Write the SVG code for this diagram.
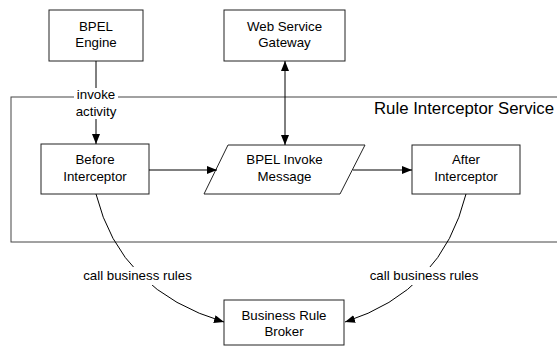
<svg xmlns="http://www.w3.org/2000/svg" width="557" height="347" viewBox="0 0 557 347">
<style>
.box{fill:#fff;stroke:#222;stroke-width:1}
.cont{fill:none;stroke:#444;stroke-width:1}
.t{font-family:"Liberation Sans",Arial,sans-serif;font-size:13.3px;fill:#000;text-anchor:middle}
.big{font-family:"Liberation Sans",Arial,sans-serif;font-size:16.8px;fill:#000}
.ln{fill:none;stroke:#000;stroke-width:1}
.bg{fill:#fff;stroke:none}
</style>
<defs>
<marker id="ah" markerWidth="10" markerHeight="8" refX="10" refY="4" orient="auto" markerUnits="userSpaceOnUse">
<path d="M0,0 L10,4 L0,8 Z" fill="#000"/>
</marker>
<marker id="ahs" markerWidth="10" markerHeight="8" refX="0" refY="4" orient="auto" markerUnits="userSpaceOnUse">
<path d="M10,0 L0,4 L10,8 Z" fill="#000"/>
</marker>
</defs>
<g id="rule-interceptor-service">
<rect class="cont" x="11" y="97" width="560" height="145"/>
<text class="big" x="374" y="114">Rule Interceptor Service</text>
</g>
<g id="bpel-engine">
<rect class="box" x="49" y="10" width="94" height="51"/>
<text class="t" x="96" y="31">BPEL</text>
<text class="t" x="96" y="47">Engine</text>
</g>
<g id="web-service-gateway">
<rect class="box" x="224" y="10" width="121" height="51"/>
<text class="t" x="284.5" y="31">Web Service</text>
<text class="t" x="284.5" y="47">Gateway</text>
</g>
<g id="before-interceptor">
<rect class="box" x="41" y="144" width="108" height="50"/>
<text class="t" x="95" y="164">Before</text>
<text class="t" x="95" y="181">Interceptor</text>
</g>
<g id="bpel-invoke-message">
<polygon class="box" points="228,145 365,145 340,194 204,194"/>
<text class="t" x="284.5" y="164">BPEL Invoke</text>
<text class="t" x="284.5" y="181">Message</text>
</g>
<g id="after-interceptor">
<rect class="box" x="412" y="145" width="108" height="49"/>
<text class="t" x="466" y="164">After</text>
<text class="t" x="466" y="181">Interceptor</text>
</g>
<g id="business-rule-broker">
<rect class="box" x="224" y="300" width="120" height="45"/>
<text class="t" x="284" y="320">Business Rule</text>
<text class="t" x="284" y="336">Broker</text>
</g>
<g id="connectors">
<line class="ln" x1="96" y1="61" x2="96" y2="144" marker-end="url(#ah)"/>
<rect class="bg" x="74" y="88" width="44" height="31"/>
<text class="t" x="96" y="99">invoke</text>
<text class="t" x="96" y="116">activity</text>
<line class="ln" x1="149" y1="170" x2="217" y2="170" marker-end="url(#ah)"/>
<line class="ln" x1="353" y1="170" x2="412" y2="170" marker-end="url(#ah)"/>
<line class="ln" x1="285" y1="61" x2="285" y2="145" marker-start="url(#ahs)" marker-end="url(#ah)"/>
<path class="ln" d="M96,194 Q120,291 224,322" marker-end="url(#ah)"/>
<path class="ln" d="M466,194 Q442,291 345,322" marker-end="url(#ah)"/>
<rect class="bg" x="82" y="267" width="112" height="18"/>
<text class="t" x="137.5" y="280">call business rules</text>
<rect class="bg" x="368" y="267" width="112" height="18"/>
<text class="t" x="424" y="280">call business rules</text>
</g>
</svg>
